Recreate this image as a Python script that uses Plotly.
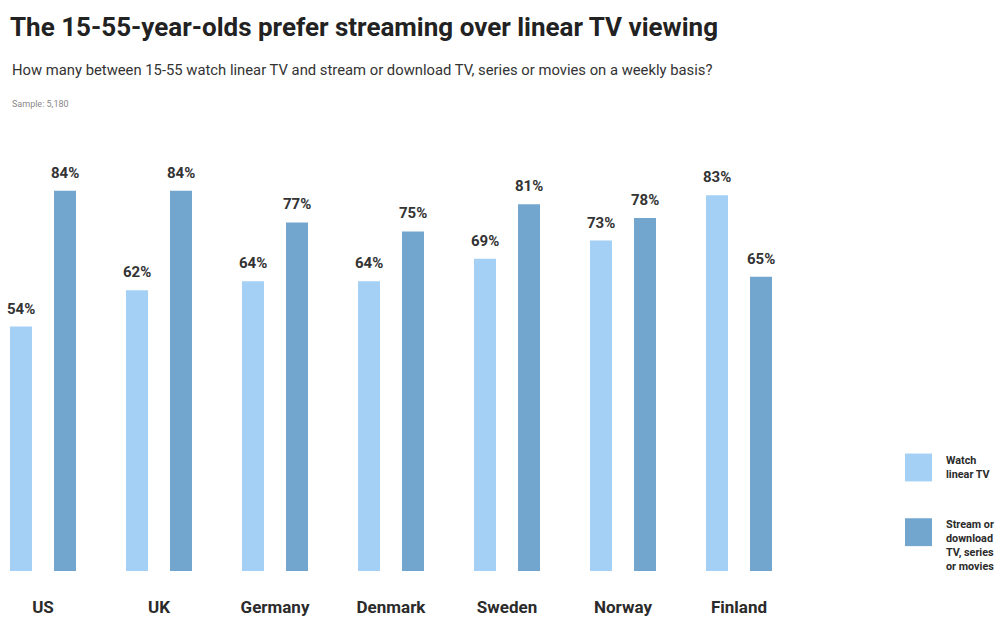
import plotly.graph_objects as go

countries = ["US", "UK", "Germany", "Denmark", "Sweden", "Norway", "Finland"]
linear_tv = [54, 62, 64, 64, 69, 73, 83]
streaming = [84, 84, 77, 75, 81, 78, 65]
series_names = ["Watch<br>linear TV", "Stream or<br>download<br>TV, series<br>or movies"]

LIGHT = "#a3d0f4"
DARK = "#73a6cf"
TEXT = "#2b2b2b"
FONT = "Roboto"

W, H = 998, 617
ml, mr, mt, mb = 0, 198, 140, 44
pw, ph = W - ml - mr, H - mt - mb
group_px = 116.0
first_center = 43.0
xr0 = -first_center / group_px
xr1 = xr0 + pw / group_px
px_per_pct = 4.548
yr1 = ph / px_per_pct

fig = go.Figure()
for name, vals, col in [(series_names[0], linear_tv, LIGHT), (series_names[1], streaming, DARK)]:
    fig.add_trace(go.Bar(x=countries, y=vals, name=name, marker=dict(color=col, line=dict(width=0)),
                         showlegend=False, hoverinfo="skip"))

off = 22.0 / group_px
annotations = []
for i in range(len(countries)):
    for vals, o in [(linear_tv, -off), (streaming, off)]:
        annotations.append(dict(x=i + o, y=vals[i], xref="x", yref="y", text=f"<b>{vals[i]}%</b>",
                                showarrow=False, yanchor="bottom", yshift=7,
                                font=dict(family=FONT, size=15, color="#333333")))

def py(pix):
    return (H - mb - pix) / ph

def px(pix):
    return (pix - ml) / pw

annotations.append(dict(x=px(10), y=py(70), xref="paper", yref="paper", xanchor="left", yanchor="middle",
                        text="How many between 15-55 watch linear TV and stream or download TV, series or movies on a weekly basis?",
                        showarrow=False, font=dict(family=FONT, size=14.8, color="#333333")))
annotations.append(dict(x=px(10), y=py(104), xref="paper", yref="paper", xanchor="left", yanchor="middle",
                        text="Sample: 5,180", showarrow=False, font=dict(family=FONT, size=9, color="#888888")))

shapes = []
legend_items = [(series_names[0], LIGHT, 455), (series_names[1], DARK, 520)]
for name, col, top in legend_items:
    shapes.append(dict(type="rect", xref="paper", yref="paper", x0=px(905), x1=px(932),
                       y0=py(top + 28), y1=py(top), fillcolor=col, line=dict(width=0)))
    annotations.append(dict(x=px(944), y=py(top - 2), xref="paper", yref="paper", xanchor="left", yanchor="top",
                            text=f"<b>{name}</b>", showarrow=False, align="left",
                            font=dict(family=FONT, size=10.8, color=TEXT)))

fig.update_layout(
    width=W, height=H,
    margin=dict(l=ml, r=mr, t=mt, b=mb, pad=0),
    paper_bgcolor="white", plot_bgcolor="white",
    barmode="group", bargap=0.2414, bargroupgap=0.5,
    title=dict(text="<b>The 15-55-year-olds prefer streaming over linear TV viewing</b>",
               xref="container", yref="container", x=10 / W, xanchor="left",
               y=1 - 27 / H, yanchor="middle",
               font=dict(family=FONT, size=26, color="#222222")),
    xaxis=dict(range=[xr0, xr1], showgrid=False, zeroline=False, showline=False,
               ticks="outside", ticklen=21, tickcolor="rgba(0,0,0,0)",
               tickfont=dict(family=FONT, size=17, color=TEXT)),
    yaxis=dict(range=[0, yr1], visible=False, showgrid=False, zeroline=False),
    annotations=annotations, shapes=shapes, showlegend=False,
)
fig.update_xaxes(tickprefix="<b>", ticksuffix="</b>")
fig.write_html("out.html")
